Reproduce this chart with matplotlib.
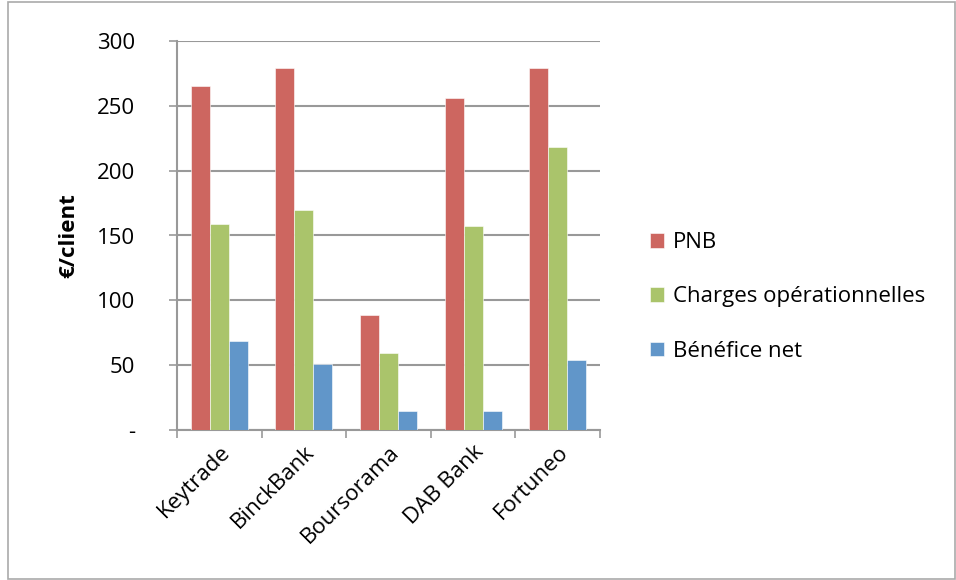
import numpy as np
import matplotlib.pyplot as plt
from matplotlib.patches import Rectangle

# --- données ---
banques = ['Keytrade', 'BinckBank', 'Boursorama', 'DAB Bank', 'Fortuneo']
pnb = [265, 279, 89, 256, 279]
charges = [159, 170, 59, 157, 218]
benefice = [69, 51, 15, 15, 54]
series = ['PNB', 'Charges opérationnelles', 'Bénéfice net']
couleurs = ['#CD6660', '#AAC46B', '#6196C9']
yticks = [0, 50, 100, 150, 200, 250, 300]
ytick_labels = ['-', '50', '100', '150', '200', '250', '300']

plt.rcParams['font.family'] = ['Open Sans', 'DejaVu Sans']
FS = 16

fig = plt.figure(figsize=(9.56, 5.8), dpi=100)
ax = fig.add_axes([177 / 956, 1 - 430 / 580, 423 / 956, 389 / 580])

x = np.arange(len(banques))
w = 0.225
for i, (vals, lab, col) in enumerate(zip([pnb, charges, benefice], series, couleurs)):
    ax.bar(x + (i - 1) * w, vals, w, color=col, label=lab, zorder=3,
           edgecolor='white', linewidth=0.4)

ax.set_xlim(-0.5, len(banques) - 0.5)
ax.set_ylim(0, 300)
ax.set_yticks(yticks)
ax.set_yticklabels(ytick_labels, fontsize=FS)
ax.yaxis.grid(True, color='#999999', linewidth=1.5, zorder=0)

# graduations x aux frontières des groupes
ax.set_xticks(np.arange(-0.5, len(banques), 1.0))
ax.set_xticklabels([])
ax.set_xticks(x, minor=True)
ax.set_xticklabels(banques, minor=True, rotation=45, ha='right', va='top',
                   rotation_mode='anchor', fontsize=FS)
ax.tick_params(axis='x', which='minor', length=0, pad=8)
ax.tick_params(axis='x', which='major', length=6, color='#999999', width=1.2)
ax.tick_params(axis='y', length=6, color='#999999', width=1.2, pad=24)

for s in ['top', 'right']:
    ax.spines[s].set_visible(False)
for s in ['left', 'bottom']:
    ax.spines[s].set_color('#999999')
    ax.spines[s].set_linewidth(1.5)

ax.set_ylabel('€/client', fontsize=FS, fontweight='bold', labelpad=13)

ax.legend(loc='center left', bbox_to_anchor=(630 / 956, 1 - 297 / 580),
          bbox_transform=fig.transFigure, frameon=False, fontsize=FS,
          handlelength=0.65, handleheight=0.65, labelspacing=1.5, handletextpad=0.4)

# cadre du graphique
fig.patches.append(Rectangle((8 / 956, 0.002), 947 / 956, 0.995, transform=fig.transFigure,
                             fill=False, edgecolor='#AAAAAA', linewidth=1.2))

fig.savefig('out.png', dpi=100)
